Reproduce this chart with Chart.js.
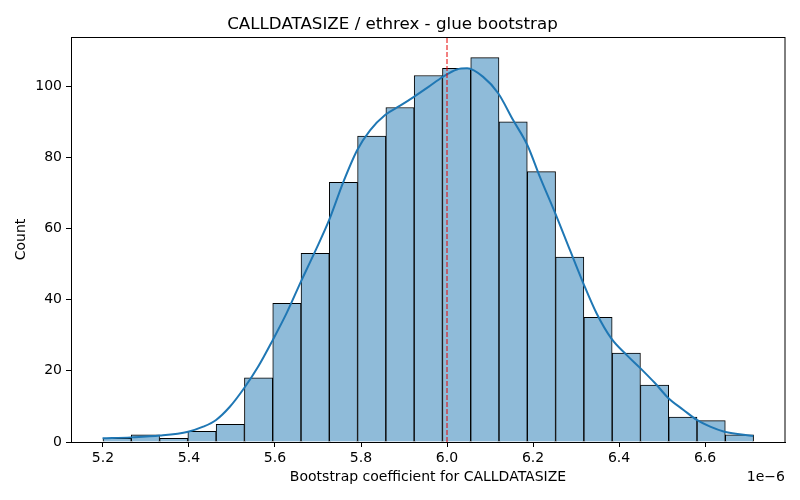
<!DOCTYPE html>
<html>
<head>
<meta charset="utf-8">
<script src="https://cdn.jsdelivr.net/npm/chart.js@4.4.1/dist/chart.umd.min.js"></script>
<style>
html,body{margin:0;padding:0;background:#fff;}
#wrap{width:800px;height:500px;}
</style>
</head>
<body>
<div id="wrap"><canvas id="c" width="800" height="500"></canvas></div>
<script>
// Bin centers (units of 1e-6) and counts
const binCenters = [5.2329, 5.2987, 5.3645, 5.4302, 5.4960, 5.5618, 5.6276, 5.6934, 5.7591, 5.8249, 5.8907, 5.9565, 6.0223, 6.0880, 6.1538, 6.2196, 6.2854, 6.3512, 6.4170, 6.4827, 6.5485, 6.6143, 6.6801];
const binCounts  = [1, 2, 1, 3, 5, 18, 39, 53, 73, 86, 94, 103, 105, 108, 90, 76, 52, 35, 25, 16, 7, 6, 2];

// KDE curve
const kdeX = [5.199, 5.265, 5.333, 5.398, 5.433, 5.463, 5.495, 5.528, 5.561, 5.595, 5.627, 5.660, 5.693, 5.726, 5.759, 5.791, 5.821, 5.856, 5.891, 5.923, 5.957, 5.989, 6.023, 6.047, 6.084, 6.119, 6.154, 6.187, 6.216, 6.252, 6.286, 6.317, 6.348, 6.382, 6.418, 6.450, 6.484, 6.515, 6.550, 6.581, 6.612, 6.645, 6.712];
const kdeY = [1.05, 1.3, 1.8, 2.9, 4.3, 6.2, 9.9, 15.1, 21.2, 28.7, 36.2, 45, 53.5, 62.4, 73.1, 82, 87.6, 91.9, 94.5, 97, 99.8, 102.5, 104.7, 105, 102.6, 98, 90.4, 83.4, 74.5, 64.2, 53.9, 44.6, 36.1, 29.1, 24.4, 20.7, 16.5, 12.3, 9, 6.2, 4.3, 2.9, 1.7];

const refValue = 6.0;
const xTicks = [5.2, 5.4, 5.6, 5.8, 6.0, 6.2, 6.4, 6.6];
const xTickLabels = ["5.2", "5.4", "5.6", "5.8", "6.0", "6.2", "6.4", "6.6"];
const yTicks = [0, 20, 40, 60, 80, 100];
const yTickLabels = ["0", "20", "40", "60", "80", "100"];

const titleText = "CALLDATASIZE / ethrex - glue bootstrap";
const xLabel = "Bootstrap coefficient for CALLDATASIZE";
const yLabel = "Count";
const offsetText = "1e\u22126";

const FONT = "'DejaVu Sans', sans-serif";

const framePlugin = {
  id: 'frame',
  afterDraw(chart) {
    const {ctx, chartArea: a} = chart;
    ctx.save();
    ctx.strokeStyle = '#000';
    ctx.lineWidth = 1;
    ctx.strokeRect(Math.round(a.left) + 0.5, Math.round(a.top) + 0.5, Math.round(a.right - a.left) - 1 + 0.5, Math.round(a.bottom - a.top));
    ctx.fillStyle = '#000';
    ctx.font = "14px " + FONT;
    ctx.textAlign = 'right';
    ctx.textBaseline = 'middle';
    ctx.fillText(offsetText, a.right, 477);
    ctx.restore();
  }
};

new Chart(document.getElementById('c'), {
  type: 'bar',
  data: {
    datasets: [
      {
        type: 'line',
        data: [{x: refValue, y: 0}, {x: refValue, y: 113.8}],
        borderColor: 'rgb(230,0,0)',
        borderWidth: 1,
        borderDash: [5, 2],
        pointRadius: 0,
        order: 0
      },
      {
        type: 'line',
        data: kdeX.map((x, i) => ({x: x, y: kdeY[i]})),
        borderColor: '#1f77b4',
        borderWidth: 2,
        pointRadius: 0,
        cubicInterpolationMode: 'monotone',
        order: 1
      },
      {
        type: 'bar',
        data: binCenters.map((x, i) => ({x: x, y: binCounts[i]})),
        backgroundColor: 'rgb(143,187,217)',
        borderColor: '#000',
        borderWidth: 1,
        barPercentage: 1,
        categoryPercentage: 1,
        order: 2
      }
    ]
  },
  options: {
    responsive: false,
    animation: false,
    devicePixelRatio: 1,
    layout: {padding: {left: 0, right: 15, top: 0, bottom: 0}},
    plugins: {
      legend: {display: false},
      tooltip: {enabled: false},
      title: {
        display: true,
        text: titleText,
        color: '#000',
        font: {family: FONT, size: 16.7, weight: 'normal'},
        padding: {top: 15, bottom: 2}
      }
    },
    scales: {
      x: {
        type: 'linear',
        min: 5.1256,
        max: 6.786,
        offset: false,
        afterBuildTicks(s) { s.ticks = xTicks.map(v => ({value: v})); },
        afterFit(s) { s.height = 58; },
        ticks: {
          color: '#000',
          font: {family: FONT, size: 14},
          padding: 3,
          maxRotation: 0,
          autoSkip: false,
          callback(v) { const i = xTicks.findIndex(t => Math.abs(t - v) < 1e-9); return i >= 0 ? xTickLabels[i] : ''; }
        },
        grid: {display: true, offset: false, drawOnChartArea: false, drawTicks: true, tickLength: 5, color: '#000'},
        border: {display: true, color: '#000'},
        title: {
          display: true,
          text: xLabel,
          color: '#000',
          font: {family: FONT, size: 14},
          padding: {top: 0, bottom: 14}
        }
      },
      y: {
        type: 'linear',
        min: 0,
        max: 113.8,
        afterBuildTicks(s) { s.ticks = yTicks.map(v => ({value: v})); },
        afterFit(s) { s.width = 71; },
        ticks: {
          color: '#000',
          font: {family: FONT, size: 14},
          padding: 4,
          autoSkip: false,
          callback(v) { const i = yTicks.indexOf(v); return i >= 0 ? yTickLabels[i] : ''; }
        },
        grid: {display: true, offset: false, drawOnChartArea: false, drawTicks: true, tickLength: 5, color: '#000'},
        border: {display: true, color: '#000'},
        title: {
          display: true,
          text: yLabel,
          color: '#000',
          font: {family: FONT, size: 14},
          padding: {top: 13, bottom: 0}
        }
      }
    }
  },
  plugins: [framePlugin]
});
</script>
</body>
</html>
